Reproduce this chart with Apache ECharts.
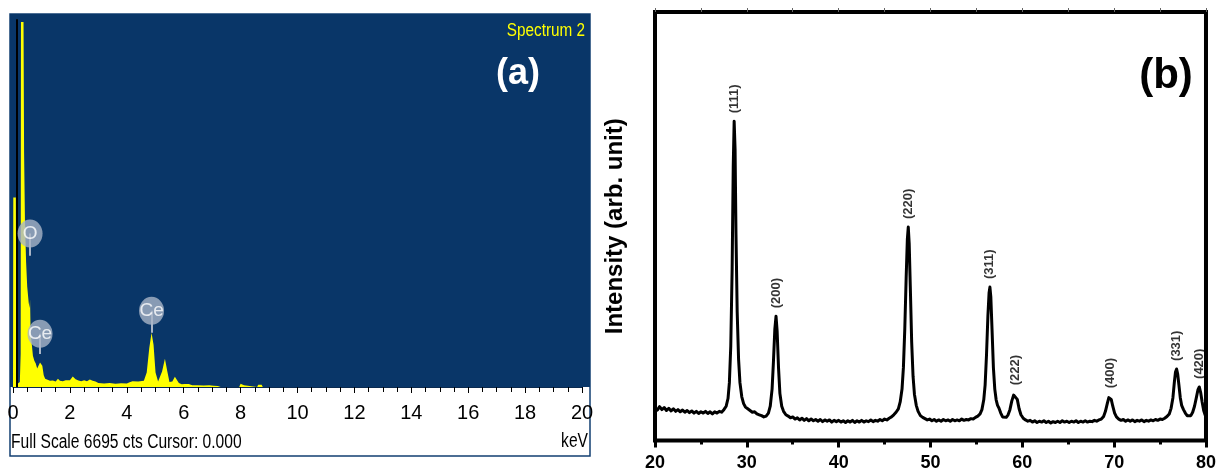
<!DOCTYPE html>
<html>
<head>
<meta charset="utf-8">
<title>EDS / XRD</title>
<script src="https://cdn.jsdelivr.net/npm/echarts@6/dist/echarts.min.js"></script>
<style>
  html, body { margin: 0; padding: 0; background: #fff; }
  #chart { width: 1219px; height: 473px; }
</style>
</head>
<body>
<div id="chart"></div>
<script>
// (a) EDS spectrum, keV vs counts
const edsEnergy = [0.00, 0.01, 0.10, 0.12, 0.16, 0.24, 0.27, 0.28, 0.37, 0.39, 0.42, 0.46, 0.50, 0.55, 0.58, 0.60, 0.62, 0.65, 0.70, 0.75,
  0.80, 0.85, 0.90, 0.95, 0.99, 1.03, 1.08, 1.13, 1.20, 1.30, 1.40, 1.50, 1.58, 1.65, 1.75, 1.85, 1.92, 2.00, 2.10, 2.20,
  2.30, 2.40, 2.50, 2.60, 2.70, 2.80, 2.90, 3.00, 3.20, 3.40, 3.60, 3.80, 4.00, 4.10, 4.20, 4.40, 4.60, 4.70, 4.79, 4.87,
  4.94, 5.01, 5.10, 5.24, 5.34, 5.42, 5.50, 5.60, 5.69, 5.75, 5.83, 5.93, 6.03, 6.10, 6.18, 6.30, 6.50, 6.70, 6.90, 7.05,
  7.20, 7.30, 7.95, 8.00, 8.06, 8.12, 8.18, 8.58, 8.62, 8.74, 8.78, 20.0];
const edsCounts = [0, 3400, 3400, 250, 60, 90, 600, 6550, 6550, 4200, 3000, 2250, 1800, 1520, 1420, 1560, 950, 820, 560, 470,
  420, 330, 360, 440, 470, 380, 210, 150, 125, 110, 115, 100, 150, 110, 105, 120, 150, 120, 190, 140,
  115, 105, 120, 105, 135, 110, 100, 70, 62, 70, 60, 68, 62, 85, 105, 100, 110, 260, 700, 975,
  760, 260, 100, 280, 505, 290, 90, 100, 185, 160, 70, 50, 55, 78, 55, 32, 30, 26, 30, 22,
  18, 0, 0, 60, 75, 30, 0, 0, 40, 40, 0, 0];
const edsFullScale = 6695;
const edsElements = ['O', 'Ce', 'Ce'];
const edsElementEnergy = [0.60, 0.95, 4.87];
const edsElementCounts = [2754, 954, 1368];
const edsPointerEnd = [2358, 594, 972];
const cursorEnergy = 0.13;

// (b) XRD pattern, 2theta vs intensity (arb. unit)
const xrdAngle = [20.00, 20.25, 20.50, 20.75, 21.00, 21.25, 21.50, 21.75, 22.00, 22.25, 22.50, 22.75, 23.00, 23.25, 23.50, 23.75,
  24.00, 24.25, 24.50, 24.75, 25.00, 25.25, 25.50, 25.75, 26.00, 26.25, 26.50, 26.75, 27.00, 27.25, 27.50, 27.75,
  27.95, 28.10, 28.25, 28.40, 28.52, 28.62, 28.72, 28.82, 28.95, 29.10, 29.25, 29.45, 29.65, 29.85, 30.10, 30.35,
  30.60, 30.85, 31.10, 31.35, 31.60, 31.85, 32.10, 32.35, 32.55, 32.75, 32.90, 33.05, 33.18, 33.30, 33.45, 33.60,
  33.80, 34.00, 34.25, 34.50, 34.75, 35.00, 35.25, 35.50, 35.75, 36.00, 36.25, 36.50, 36.75, 37.00, 37.25, 37.50,
  37.75, 38.00, 38.25, 38.50, 38.75, 39.00, 39.25, 39.50, 39.75, 40.00, 40.25, 40.50, 40.75, 41.00, 41.25, 41.50,
  41.75, 42.00, 42.25, 42.50, 42.75, 43.00, 43.25, 43.50, 43.75, 44.00, 44.25, 44.50, 44.75, 45.00, 45.25, 45.50,
  45.75, 46.00, 46.25, 46.50, 46.70, 46.90, 47.05, 47.20, 47.35, 47.48, 47.58, 47.68, 47.80, 47.95, 48.10, 48.25,
  48.45, 48.65, 48.90, 49.15, 49.40, 49.65, 49.90, 50.15, 50.40, 50.65, 50.90, 51.15, 51.40, 51.65, 51.90, 52.15,
  52.40, 52.65, 52.90, 53.15, 53.40, 53.65, 53.90, 54.15, 54.40, 54.65, 54.90, 55.15, 55.40, 55.60, 55.80, 55.95,
  56.10, 56.25, 56.38, 56.47, 56.57, 56.70, 56.85, 57.00, 57.15, 57.30, 57.45, 57.65, 57.85, 58.05, 58.25, 58.45,
  58.65, 58.85, 59.05, 59.25, 59.45, 59.65, 59.85, 60.10, 60.35, 60.60, 60.85, 61.10, 61.35, 61.60, 61.85, 62.10,
  62.35, 62.60, 62.85, 63.10, 63.35, 63.60, 63.85, 64.10, 64.35, 64.60, 64.85, 65.10, 65.35, 65.60, 65.85, 66.10,
  66.35, 66.60, 66.85, 67.10, 67.35, 67.60, 67.85, 68.10, 68.35, 68.60, 68.85, 69.05, 69.25, 69.42, 69.55, 69.68,
  69.85, 70.05, 70.25, 70.50, 70.75, 71.00, 71.25, 71.50, 71.75, 72.00, 72.25, 72.50, 72.75, 73.00, 73.25, 73.50,
  73.75, 74.00, 74.25, 74.50, 74.75, 75.00, 75.25, 75.50, 75.75, 76.00, 76.20, 76.40, 76.55, 76.68, 76.80, 76.92,
  77.05, 77.20, 77.35, 77.55, 77.75, 77.95, 78.15, 78.35, 78.55, 78.75, 78.95, 79.12, 79.27, 79.42, 79.58, 79.75,
  79.90, 80.00];
const xrdIntensity = [76, 71, 79, 72, 77, 70, 75, 69, 74, 68, 72, 67, 71, 66, 70, 65,
  69, 64, 68, 63, 67, 64, 68, 63, 67, 62, 67, 64, 68, 66, 72, 80,
  98, 135, 220, 400, 640, 745, 680, 480, 300, 190, 135, 102, 86, 78, 74, 70,
  66, 67, 62, 60, 58, 55, 57, 64, 80, 120, 185, 260, 290, 255, 170, 110,
  80, 68, 60, 57, 53, 55, 50, 53, 48, 52, 47, 51, 46, 50, 46, 49,
  45, 49, 44, 48, 45, 48, 43, 47, 44, 47, 43, 46, 42, 46, 43, 47,
  42, 46, 43, 47, 43, 46, 44, 48, 44, 47, 45, 49, 46, 50, 48, 52,
  55, 60, 66, 74, 90, 120, 170, 260, 380, 470, 498, 460, 360, 230, 150, 108,
  82, 68, 58, 54, 51, 48, 50, 46, 49, 45, 48, 45, 49, 46, 48, 45,
  49, 46, 48, 46, 50, 47, 49, 48, 51, 50, 54, 57, 62, 72, 95, 130,
  200, 290, 345, 358, 335, 260, 170, 120, 95, 82, 76, 64, 55, 52, 54, 60,
  72, 92, 106, 110, 96, 74, 60, 52, 48, 45, 47, 43, 46, 42, 45, 43,
  46, 42, 45, 41, 44, 42, 45, 42, 46, 43, 45, 42, 45, 43, 46, 42,
  45, 43, 46, 43, 45, 44, 47, 45, 48, 50, 56, 68, 86, 100, 103, 96,
  80, 64, 55, 50, 47, 49, 45, 48, 45, 48, 44, 47, 45, 48, 44, 47,
  45, 48, 46, 49, 47, 50, 49, 52, 56, 62, 75, 100, 135, 160, 167, 155,
  130, 100, 82, 72, 64, 58, 56, 58, 66, 80, 100, 118, 125, 112, 90, 70,
  60, 56];
const hklLabels = ['(111)', '(200)', '(220)', '(311)', '(222)', '(400)', '(331)', '(420)'];
const hklAngle = [28.62, 33.18, 47.58, 56.47, 59.25, 69.55, 76.80, 79.27];
const hklIntensity = [745, 290, 498, 358, 110, 103, 167, 125];

const narrow = '"Liberation Sans Narrow", "Arial Narrow", "Liberation Sans", Arial, sans-serif';
const sans = 'Arial, "Liberation Sans", sans-serif';

const chart = echarts.init(document.getElementById('chart'));

const edsData = edsEnergy.map((e, i) => [e, edsCounts[i]]);
const xrdData = xrdAngle.map((a, i) => [a, xrdIntensity[i]]);
const pointerLines = edsElementEnergy.map((e, i) => [
  { coord: [e, edsElementCounts[i]], lineStyle: { color: '#a9b5c7', width: 2, type: 'solid' } },
  { coord: [e, edsPointerEnd[i]] }
]);

const option = {
  animation: false,
  backgroundColor: '#fff',
  grid: [
    { left: 13, top: 14, width: 569, height: 373 },
    { left: 655, top: 12, width: 551, height: 428.5, show: true, borderColor: '#000', borderWidth: 4, backgroundColor: 'transparent' }
  ],
  xAxis: [
    {
      type: 'value', gridIndex: 0, min: 0, max: 20, interval: 2,
      axisLine: { show: true, lineStyle: { color: '#0a2a50', width: 1 } },
      axisTick: { show: true, length: 6, lineStyle: { color: '#000', width: 1 } },
      minorTick: { show: true, splitNumber: 4, length: 5, lineStyle: { color: '#000', width: 1 } },
      axisLabel: { color: '#000', fontSize: 20, fontFamily: narrow, margin: 16 },
      splitLine: { show: false }
    },
    {
      type: 'value', gridIndex: 1, min: 20, max: 80, interval: 10,
      axisLine: { show: false },
      axisTick: { show: true, length: 7, lineStyle: { color: '#000', width: 3 } },
      minorTick: { show: true, splitNumber: 2, length: 4, lineStyle: { color: '#000', width: 3 } },
      axisLabel: { color: '#000', fontSize: 18, fontWeight: 'bold', fontFamily: sans, margin: 14 },
      splitLine: { show: false }
    },
    {
      type: 'value', gridIndex: 1, position: 'top', min: 20, max: 80, interval: 5,
      axisLine: { show: false },
      axisTick: { show: true, length: 4, lineStyle: { color: '#666', width: 1 } },
      axisLabel: { show: false },
      splitLine: { show: false }
    }
  ],
  yAxis: [
    { type: 'value', gridIndex: 0, min: 0, max: edsFullScale, show: false },
    {
      type: 'value', gridIndex: 1, min: 0, max: 1000,
      axisLine: { show: false }, axisTick: { show: false }, axisLabel: { show: false }, splitLine: { show: false },
      name: 'Intensity (arb. unit)', nameLocation: 'middle', nameRotate: 90, nameGap: 28,
      nameTextStyle: { fontSize: 24, fontWeight: 'bold', fontFamily: sans, color: '#000' }
    }
  ],
  graphic: [
    // panel (a) frame, white axis strip and blue plot area
    { type: 'rect', z: -2, shape: { x: 10, y: 14, width: 580, height: 442 }, style: { fill: '#fff', stroke: '#123f72', lineWidth: 1.5 } },
    { type: 'rect', z: -1, shape: { x: 10, y: 14, width: 580, height: 373 }, style: { fill: '#093668' } },
    { type: 'text', z: 10, x: 585, y: 31, scaleX: 0.85,
      style: { text: 'Spectrum 2', x: 0, y: 0, fill: '#ffff00', font: '18px ' + sans, align: 'right', verticalAlign: 'middle', textAlign: 'right', textVerticalAlign: 'middle' } },
    { type: 'text', z: 10, x: 518, y: 74,
      style: { text: '(a)', x: 0, y: 0, fill: '#fff', font: 'bold 36px ' + sans, align: 'center', verticalAlign: 'middle', textAlign: 'center', textVerticalAlign: 'middle' } },
    { type: 'text', z: 10, x: 11, y: 442, scaleX: 0.78,
      style: { text: 'Full Scale ' + edsFullScale + ' cts Cursor: 0.000', x: 0, y: 0, fill: '#000', font: '20px ' + sans, align: 'left', verticalAlign: 'middle', textAlign: 'left', textVerticalAlign: 'middle' } },
    { type: 'text', z: 10, x: 588, y: 441, scaleX: 0.78,
      style: { text: 'keV', x: 0, y: 0, fill: '#000', font: '20px ' + sans, align: 'right', verticalAlign: 'middle', textAlign: 'right', textVerticalAlign: 'middle' } },
    { type: 'text', z: 10, x: 1166, y: 76,
      style: { text: '(b)', x: 0, y: 0, fill: '#000', font: 'bold 42px ' + sans, align: 'center', verticalAlign: 'middle', textAlign: 'center', textVerticalAlign: 'middle' } }
  ],
  series: [
    {
      name: 'EDS', type: 'line', xAxisIndex: 0, yAxisIndex: 0, z: 3,
      data: edsData, showSymbol: false, silent: true,
      lineStyle: { width: 0, color: '#ffff00' },
      areaStyle: { color: '#ffff00', opacity: 1 },
      markLine: {
        silent: true, symbol: 'none', animation: false,
        label: { show: false },
        data: [
          [{ coord: [cursorEnergy, 0], lineStyle: { color: '#000', width: 2, type: 'solid' } },
           { coord: [cursorEnergy, 6600] }]
        ].concat(pointerLines)
      }
    },
    {
      name: 'Elements', type: 'scatter', xAxisIndex: 0, yAxisIndex: 0, z: 5, silent: true,
      data: edsElements.map((el, i) => ({ value: [edsElementEnergy[i], edsElementCounts[i]], name: el })),
      symbol: 'circle', symbolSize: [25, 28],
      itemStyle: { color: '#a9b5c7' },
      label: { show: true, position: 'inside', formatter: '{b}', color: '#fff', fontSize: 19, fontFamily: narrow }
    },
    {
      name: 'XRD', type: 'line', xAxisIndex: 1, yAxisIndex: 1, z: 3,
      data: xrdData, showSymbol: false, silent: true,
      lineStyle: { color: '#000', width: 3, join: 'round' }
    },
    {
      name: 'hkl', type: 'scatter', xAxisIndex: 1, yAxisIndex: 1, z: 4, silent: true,
      data: hklLabels.map((h, i) => ({ value: [hklAngle[i], hklIntensity[i]], name: h })),
      symbolSize: 0,
      label: {
        show: true, position: 'top', distance: 8, rotate: 90, align: 'left', verticalAlign: 'middle',
        formatter: '{b}', color: '#000', fontSize: 13, fontWeight: 'bold', fontFamily: sans
      }
    }
  ]
};

chart.setOption(option);
</script>
</body>
</html>
